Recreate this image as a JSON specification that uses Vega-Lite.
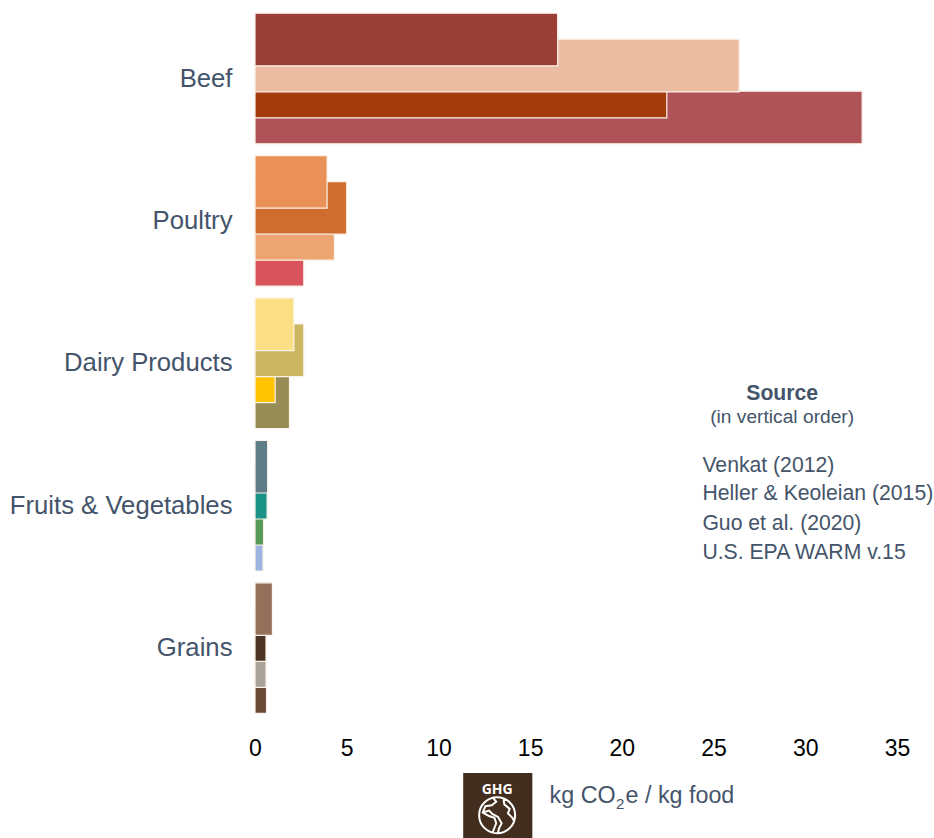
{
"$schema":"https://vega.github.io/schema/vega-lite/v6.json",
"width":642,"height":712,
"autosize":"none",
"padding":{"left":255,"top":7.3,"right":37,"bottom":118.7},
"background":"white",
"config":{"view":{"stroke":null},"font":"Liberation Sans"},
"layer":[
{"data":{"values":[
{"food":"Beef","source":"U.S. EPA WARM v.15","value":33.1,"series":"Beef U.S. EPA"},
{"food":"Beef","source":"Guo et al. (2020)","value":22.45,"series":"Beef Guo"},
{"food":"Beef","source":"Heller & Keoleian (2015)","value":26.4,"series":"Beef Heller"},
{"food":"Beef","source":"Venkat (2012)","value":16.5,"series":"Beef Venkat"},
{"food":"Poultry","source":"U.S. EPA WARM v.15","value":2.66,"series":"Poultry U.S. EPA"},
{"food":"Poultry","source":"Guo et al. (2020)","value":4.33,"series":"Poultry Guo"},
{"food":"Poultry","source":"Heller & Keoleian (2015)","value":5.0,"series":"Poultry Heller"},
{"food":"Poultry","source":"Venkat (2012)","value":3.93,"series":"Poultry Venkat"},
{"food":"Dairy Products","source":"U.S. EPA WARM v.15","value":1.88,"series":"Dairy U.S. EPA"},
{"food":"Dairy Products","source":"Guo et al. (2020)","value":1.1,"series":"Dairy Guo"},
{"food":"Dairy Products","source":"Heller & Keoleian (2015)","value":2.66,"series":"Dairy Heller"},
{"food":"Dairy Products","source":"Venkat (2012)","value":2.12,"series":"Dairy Venkat"},
{"food":"Fruits & Vegetables","source":"U.S. EPA WARM v.15","value":0.44,"series":"Fruit U.S. EPA"},
{"food":"Fruits & Vegetables","source":"Guo et al. (2020)","value":0.47,"series":"Fruit Guo"},
{"food":"Fruits & Vegetables","source":"Heller & Keoleian (2015)","value":0.66,"series":"Fruit Heller"},
{"food":"Fruits & Vegetables","source":"Venkat (2012)","value":0.69,"series":"Fruit Venkat"},
{"food":"Grains","source":"U.S. EPA WARM v.15","value":0.63,"series":"Grain U.S. EPA"},
{"food":"Grains","source":"Guo et al. (2020)","value":0.6,"series":"Grain Guo"},
{"food":"Grains","source":"Heller & Keoleian (2015)","value":0.6,"series":"Grain Heller"},
{"food":"Grains","source":"Venkat (2012)","value":0.95,"series":"Grain Venkat"}
]},
"mark":{"type":"bar","size":52.6,"stroke":"#FBF3EA","strokeWidth":1.2},
"encoding":{
"y":{"field":"food","type":"nominal","sort":null,"scale":{"domain":["Beef","Poultry","Dairy Products","Fruits & Vegetables","Grains"],"paddingInner":0,"paddingOuter":0},
"axis":{"title":null,"domain":false,"ticks":false,"labelFontSize":25.7,"labelColor":"#44546A","labelPadding":23,"labelFont":"Liberation Sans","labelLimit":300}},
"yOffset":{"field":"source","type":"nominal","sort":null,"scale":{"domain":["Venkat (2012)","Heller & Keoleian (2015)","Guo et al. (2020)","U.S. EPA WARM v.15"],"paddingInner":0,"paddingOuter":0.738}},
"x":{"field":"value","type":"quantitative","stack":null,"scale":{"domain":[0,35],"nice":false},
"axis":{"title":null,"domain":false,"ticks":false,"grid":false,"values":[0,5,10,15,20,25,30,35],"labelFontSize":23,"labelColor":"#000000","labelPadding":18,"labelFont":"Liberation Sans","labelFlush":false}},
"color":{"field":"series","type":"nominal","legend":null,"scale":{
"domain":["Beef Venkat","Beef Heller","Beef Guo","Beef U.S. EPA","Poultry Venkat","Poultry Heller","Poultry Guo","Poultry U.S. EPA","Dairy Venkat","Dairy Heller","Dairy Guo","Dairy U.S. EPA","Fruit Venkat","Fruit Heller","Fruit Guo","Fruit U.S. EPA","Grain Venkat","Grain Heller","Grain Guo","Grain U.S. EPA"],
"range":["#9A3F36","#EBBDA3","#A23C0B","#B05359","#EA9158","#CF6C30","#ECA570","#D8535B","#FBDF85","#CDB662","#FFC300","#978C55","#5F7D87","#1B9386","#559A58","#9CB5E0","#94705A","#4A3323","#A8A298","#6B4A38"]}}
}},
{"data":{"values":[
{"label":"Source","kg":28.74,"row":13.2}
]},
"mark":{"type":"text","fontSize":21.2,"fontWeight":"bold","color":"#44546A","align":"center","baseline":"middle"},
"encoding":{"x":{"field":"kg","type":"quantitative"},"y":{"field":"row","type":"quantitative","scale":{"domain":[0,24.325],"reverse":true},"axis":null},"text":{"field":"label"}}},
{"data":{"values":[
{"label":"(in vertical order)","kg":28.74,"row":13.99}
]},
"mark":{"type":"text","fontSize":19.2,"color":"#44546A","align":"center","baseline":"middle"},
"encoding":{"x":{"field":"kg","type":"quantitative"},"y":{"field":"row","type":"quantitative","scale":{"domain":[0,24.325],"reverse":true},"axis":null},"text":{"field":"label"}}},
{"data":{"values":[
{"label":"Venkat (2012)","kg":24.39,"row":15.67},
{"label":"Heller & Keoleian (2015)","kg":24.39,"row":16.63},
{"label":"Guo et al. (2020)","kg":24.39,"row":17.65},
{"label":"U.S. EPA WARM v.15","kg":24.39,"row":18.64}
]},
"mark":{"type":"text","fontSize":21.2,"color":"#44546A","align":"left","baseline":"middle"},
"encoding":{"x":{"field":"kg","type":"quantitative"},"y":{"field":"row","type":"quantitative","scale":{"domain":[0,24.325],"reverse":true},"axis":null},"text":{"field":"label"}}},
{"data":{"values":[
{"label":"kg CO","kg":16.06,"row":26.93},
{"label":"e / kg food","kg":20.2,"row":26.93}
]},
"mark":{"type":"text","fontSize":23.3,"color":"#44546A","align":"left","baseline":"middle"},
"encoding":{"x":{"field":"kg","type":"quantitative"},"y":{"field":"row","type":"quantitative","scale":{"domain":[0,24.325],"reverse":true},"axis":null},"text":{"field":"label"}}},
{"data":{"values":[
{"label":"2","kg":19.68,"row":27.22}
]},
"mark":{"type":"text","fontSize":15,"color":"#44546A","align":"left","baseline":"middle"},
"encoding":{"x":{"field":"kg","type":"quantitative"},"y":{"field":"row","type":"quantitative","scale":{"domain":[0,24.325],"reverse":true},"axis":null},"text":{"field":"label"}}},
{"data":{"values":[{"kg0":11.35,"kg1":15.12,"row0":26.16,"row1":28.38}]},
"mark":{"type":"rect","color":"#432D1E","clip":false},
"encoding":{"x":{"field":"kg0","type":"quantitative"},"x2":{"field":"kg1"},"y":{"field":"row0","type":"quantitative","scale":{"domain":[0,24.325],"reverse":true},"axis":null},"y2":{"field":"row1"}}},
{"data":{"values":[{"label":"GHG","kg":13.2,"row":26.74}]},
"mark":{"type":"text","fontSize":14,"fontWeight":"bold","font":"Open Sans","color":"white","align":"center","baseline":"middle"},
"encoding":{"x":{"field":"kg","type":"quantitative"},"y":{"field":"row","type":"quantitative","scale":{"domain":[0,24.325],"reverse":true},"axis":null},"text":{"field":"label"}}},
{"data":{"values":[{"kg":13.2,"row":27.6}]},
"mark":{"type":"point","size":1296,"filled":false,"stroke":"white","strokeWidth":2,"opacity":1,"shape":"M0,-1A1,1 0 1,1 0,1A1,1 0 1,1 0,-1ZM-0.25,-0.97L-0.05,-0.75L-0.3,-0.55L-0.65,-0.5L-0.8,-0.15L-0.45,0.05L-0.15,0.15L-0.05,0.45L-0.25,0.95M0.35,-0.93L0.4,-0.6L0.7,-0.35L0.6,-0.1L0.85,0.15L0.95,0.35M-0.8,-0.15L-0.45,-0.25L-0.25,-0.05L0.05,0.1L0.25,0.45L0.1,0.75L0.05,0.98"},
"encoding":{"x":{"field":"kg","type":"quantitative"},"y":{"field":"row","type":"quantitative","scale":{"domain":[0,24.325],"reverse":true},"axis":null}}}
],
"resolve":{"scale":{"y":"independent","x":"shared"}}
}
